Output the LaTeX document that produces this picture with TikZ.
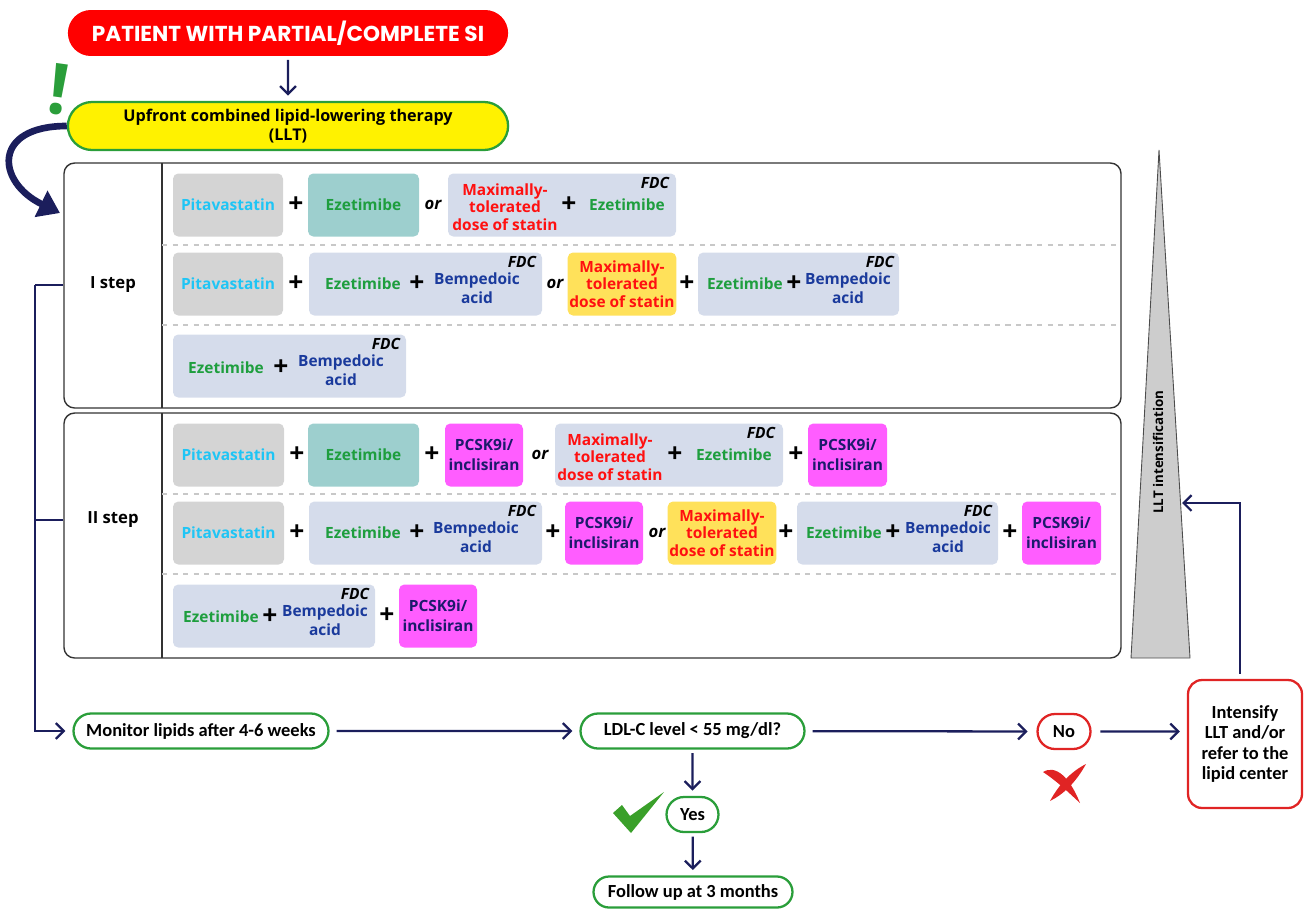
\documentclass[tikz,border=0pt]{standalone}
\usepackage{fontspec}
\setmainfont{Open Sans}
\newfontfamily\narrowfont{Carlito}
\newfontfamily\headfont{Poppins}
\usetikzlibrary{arrows.meta,shapes.misc}

\definecolor{navy}{HTML}{1B1E5C}
\definecolor{pitagray}{HTML}{D4D4D4}
\definecolor{pitacyan}{HTML}{1FC5F5}
\definecolor{tealbox}{HTML}{9DCFCE}
\definecolor{ezegreen}{HTML}{1E9E3E}
\definecolor{lavbox}{HTML}{D5DCEB}
\definecolor{bemblue}{HTML}{1A3A9C}
\definecolor{maxred}{HTML}{FF1010}
\definecolor{yelbox}{HTML}{FFE15A}
\definecolor{magbox}{HTML}{FF5DFF}
\definecolor{pcsknavy}{HTML}{1C1A6B}
\definecolor{pillgreen}{HTML}{2A9E3A}
\definecolor{pillred}{HTML}{E02424}
\definecolor{sepgray}{HTML}{C8C8C8}
\definecolor{trigray}{HTML}{CDCDCD}
\definecolor{tickgreen}{HTML}{3AA02A}

\begin{document}
\begin{tikzpicture}[x=0.02cm, y=-0.02cm,
  box/.style={rounded corners=3pt, minimum height=1.26cm, inner sep=1pt, align=center,
              font=\bfseries\fontsize{8.8}{9.9}\selectfont},
  bw/.style={minimum width=#1*0.02cm},
  pitab/.style={fill=pitagray, text=pitacyan},
  ezeb/.style={fill=tealbox, text=ezegreen},
  fdcb/.style={fill=lavbox},
  maxb/.style={fill=yelbox, text=maxred},
  pcskb/.style={fill=magbox, text=pcsknavy, font=\bfseries\fontsize{8.8}{11.4}\selectfont},
  txt/.style={inner sep=0pt, align=center, font=\bfseries\fontsize{8.8}{9.9}\selectfont},
  teze/.style={txt, text=ezegreen},
  tbem/.style={txt, text=bemblue, font=\bfseries\fontsize{8.8}{10.6}\selectfont},
  tmax/.style={txt, text=maxred},
  plus/.style={inner sep=0pt, font=\bfseries\fontsize{15}{15}\selectfont},
  ortxt/.style={inner sep=0pt, font=\bfseries\itshape\fontsize{9.5}{10}\selectfont},
  fdc/.style={inner sep=0pt, font=\bfseries\itshape\fontsize{8.8}{9}\selectfont},
  stepbox/.style={draw=black!80, line width=0.8pt, rounded corners=6pt, minimum height=4.9cm},
  steplbl/.style={font=\bfseries\fontsize{9.5}{11}\selectfont},
  sep/.style={draw=sepgray, dashed, line width=0.6pt},
  pill/.style={rounded rectangle, draw=pillgreen, line width=1.3pt, fill=white,
               minimum height=0.7cm, inner sep=2pt,
               font=\narrowfont\bfseries\fontsize{10.5}{11.5}\selectfont},
  flow/.style={draw=navy, line width=1.3pt, -{Straight Barb[length=4.5pt,width=9pt]}},
  link/.style={draw=navy, line width=1.3pt},
]
\useasboundingbox (0,0) rectangle (1304,910);

% top of the chart
\node[rounded rectangle, fill=red, text=white, minimum width=9.04cm, minimum height=0.92cm,
      font=\headfont\bfseries\fontsize{12.3}{14}\selectfont] (patient) at (288,33)
      {PATIENT WITH PARTIAL/COMPLETE SI};
\node[rounded rectangle, fill=yellow, draw=pillgreen, line width=1.3pt, minimum width=9.04cm,
      minimum height=0.96cm, align=center, font=\bfseries\fontsize{9.2}{10.6}\selectfont] (llt) at (288,126)
      {Upfront combined lipid-lowering therapy\\(LLT)};
\draw[flow, shorten <=2pt, shorten >=3pt] (patient) -- (llt);
\node[text=pillgreen, rotate=-8, font=\bfseries\fontsize{40}{40}\selectfont] (bang) at (59,90) {!};
\coordinate (entry) at (60,213);
\draw[navy, line width=3.8pt, -{Triangle[length=12pt,width=16pt]}]
  (llt.west) .. controls (-8,126) and (-4,182) .. (entry);

% I step
\node[stepbox, bw=1057] (step1) at (592.5,285.5) {};
\draw[black!80, line width=0.8pt] (162,163) -- (162,408);
\node[steplbl] (step1lbl) at (113,285) {I step};
\draw[sep] (162,245) -- (1121,245);
\draw[sep] (162,325) -- (1121,325);

\node[box, pitab, bw=110] (a1) at (228,205) {Pitavastatin};
\node[plus] (a1s) at (296,205) {+};
\node[box, ezeb, bw=111] (a2) at (363.5,205) {Ezetimibe};
\node[ortxt] (a2or) at (433,205) {or};
\node[box, fdcb, bw=228] (a3) at (562,205) {};
\node[tmax] (a3m) at (505,207) {Maximally-\\tolerated\\dose of statin};
\node[plus] (a3s) at (569,205) {+};
\node[teze] (a3e) at (627,205) {Ezetimibe};
\node[fdc] (a3f) at (655,183) {FDC};

\node[box, pitab, bw=110] (b1) at (228,284) {Pitavastatin};
\node[plus] (b1s) at (296,284) {+};
\node[box, fdcb, bw=233] (b2) at (425.5,284) {};
\node[teze] (b2e) at (363,284) {Ezetimibe};
\node[plus] (b2s) at (417,284) {+};
\node[tbem] (b2b) at (477,288) {Bempedoic\\acid};
\node[fdc] (b2f) at (522,262) {FDC};
\node[ortxt] (b2or) at (555,284) {or};
\node[box, maxb, bw=106] (b3) at (622,284) {Maximally-\\tolerated\\dose of statin};
\node[plus] (b3s) at (687,284) {+};
\node[box, fdcb, bw=201] (b4) at (798.5,284) {};
\node[teze] (b4e) at (745,284) {Ezetimibe};
\node[plus] (b4s) at (794,284) {+};
\node[tbem] (b4b) at (848,288) {Bempedoic\\acid};
\node[fdc] (b4f) at (880,262) {FDC};

\node[box, fdcb, bw=233] (c1) at (289.5,366) {};
\node[teze] (c1e) at (226,368) {Ezetimibe};
\node[plus] (c1s) at (281,368) {+};
\node[tbem] (c1b) at (341,370) {Bempedoic\\acid};
\node[fdc] (c1f) at (386,344) {FDC};

% II step
\node[stepbox, bw=1057] (step2) at (592.5,535.5) {};
\draw[black!80, line width=0.8pt] (162,413) -- (162,658);
\node[steplbl] (step2lbl) at (113,520) {II step};
\draw[sep] (162,494) -- (1121,494);
\draw[sep] (162,574) -- (1121,574);

\node[box, pitab, bw=111] (d1) at (228.5,455) {Pitavastatin};
\node[plus] (d1s) at (297,455) {+};
\node[box, ezeb, bw=111] (d2) at (363.5,455) {Ezetimibe};
\node[plus] (d2s) at (432,455) {+};
\node[box, pcskb, bw=78] (d3) at (484,455) {PCSK9i/\\inclisiran};
\node[ortxt] (d3or) at (540,455) {or};
\node[box, fdcb, bw=228] (d4) at (669,455) {};
\node[tmax] (d4m) at (610,457) {Maximally-\\tolerated\\dose of statin};
\node[plus] (d4s) at (675,455) {+};
\node[teze] (d4e) at (734,455) {Ezetimibe};
\node[fdc] (d4f) at (761,433) {FDC};
\node[plus] (d5s) at (796,455) {+};
\node[box, pcskb, bw=79] (d5) at (847.5,455) {PCSK9i/\\inclisiran};

\node[box, pitab, bw=111] (e1) at (228.5,533) {Pitavastatin};
\node[plus] (e1s) at (297,533) {+};
\node[box, fdcb, bw=233] (e2) at (425.5,533) {};
\node[teze] (e2e) at (363,533) {Ezetimibe};
\node[plus] (e2s) at (417,533) {+};
\node[tbem] (e2b) at (476,537) {Bempedoic\\acid};
\node[fdc] (e2f) at (522,511) {FDC};
\node[plus] (e3s) at (553,533) {+};
\node[box, pcskb, bw=78] (e3) at (604,533) {PCSK9i/\\inclisiran};
\node[ortxt] (e3or) at (657,533) {or};
\node[box, maxb, bw=104] (e4) at (722,533) {Maximally-\\tolerated\\dose of statin};
\node[plus] (e4s) at (786,533) {+};
\node[box, fdcb, bw=201] (e5) at (897.5,533) {};
\node[teze] (e5e) at (844,533) {Ezetimibe};
\node[plus] (e5s) at (893,533) {+};
\node[tbem] (e5b) at (948,537) {Bempedoic\\acid};
\node[fdc] (e5f) at (978,511) {FDC};
\node[plus] (e6s) at (1010,533) {+};
\node[box, pcskb, bw=79] (e6) at (1061.5,533) {PCSK9i/\\inclisiran};

\node[box, fdcb, bw=202] (f1) at (274,616) {};
\node[teze] (f1e) at (221,617) {Ezetimibe};
\node[plus] (f1s) at (270,617) {+};
\node[tbem] (f1b) at (325,620) {Bempedoic\\acid};
\node[fdc] (f1f) at (355,594) {FDC};
\node[plus] (f2s) at (387,616) {+};
\node[box, pcskb, bw=78] (f2) at (438,616) {PCSK9i/\\inclisiran};

% intensification wedge
\draw[fill=trigray, draw=black!70, line width=0.5pt] (1159,150) -- (1190,658) -- (1131,658) -- cycle;
\node[rotate=90, font=\bfseries\fontsize{7.6}{9}\selectfont] (wedge) at (1158,452) {LLT intensification};
\coordinate (wedgein) at (1182,503);

% monitoring
\node[pill, bw=262] (monitor) at (201,731) {Monitor lipids after 4-6 weeks};
\node[pill, bw=231] (ldl) at (692.5,731) {LDL-C level < 55 mg/dl?};
\node[pill, bw=59] (yes) at (692.5,814.5) {Yes};
\node[pill, bw=206, minimum height=0.62cm] (follow) at (693,892) {Follow up at 3 months};
\node[pill, draw=pillred, bw=60] (no) at (1064,731.5) {No};
\node[draw=pillred, line width=1.3pt, rounded corners=8pt, minimum width=2.28cm, minimum height=2.56cm,
      align=center, font=\narrowfont\bfseries\fontsize{10.5}{11.5}\selectfont] (intens) at (1245,744)
      {Intensify\\LLT and/or\\refer to the\\lipid center};

\draw[link] (step1.west |- 0,285) -- (35,285) coordinate (brk);
\draw[link] (step2.west |- 0,520) -- (35,520);
\draw[flow, shorten >=4pt] (brk) |- (monitor.west);
\draw[flow, shorten <=4pt, shorten >=4pt] (monitor) -- (ldl);
\draw[flow, shorten <=4pt, shorten >=5pt] (ldl) -- (no);
\draw[flow, shorten <=5pt, shorten >=4pt] (no) -- (no -| intens.west);
\draw[flow, shorten <=2pt, shorten >=3pt] (ldl) -- (yes);
\draw[flow, shorten <=2pt, shorten >=3pt] (yes) -- (follow);
\draw[flow, shorten <=3pt] ([xshift=-0.1cm]intens.north) |- (wedgein);

% tick and cross
\fill[tickgreen] (613,813) -- (622,805) -- (630,816) -- (664,792) -- (631,833) -- cycle;
\fill[pillred] (1043,772) .. controls (1056,764) and (1070,778) .. (1080,803)
  .. controls (1068,792) and (1058,782) .. cycle;
\fill[pillred] (1086,764) .. controls (1070,772) and (1058,786) .. (1050,801)
  .. controls (1064,794) and (1076,782) .. cycle;
\end{tikzpicture}
\end{document}
